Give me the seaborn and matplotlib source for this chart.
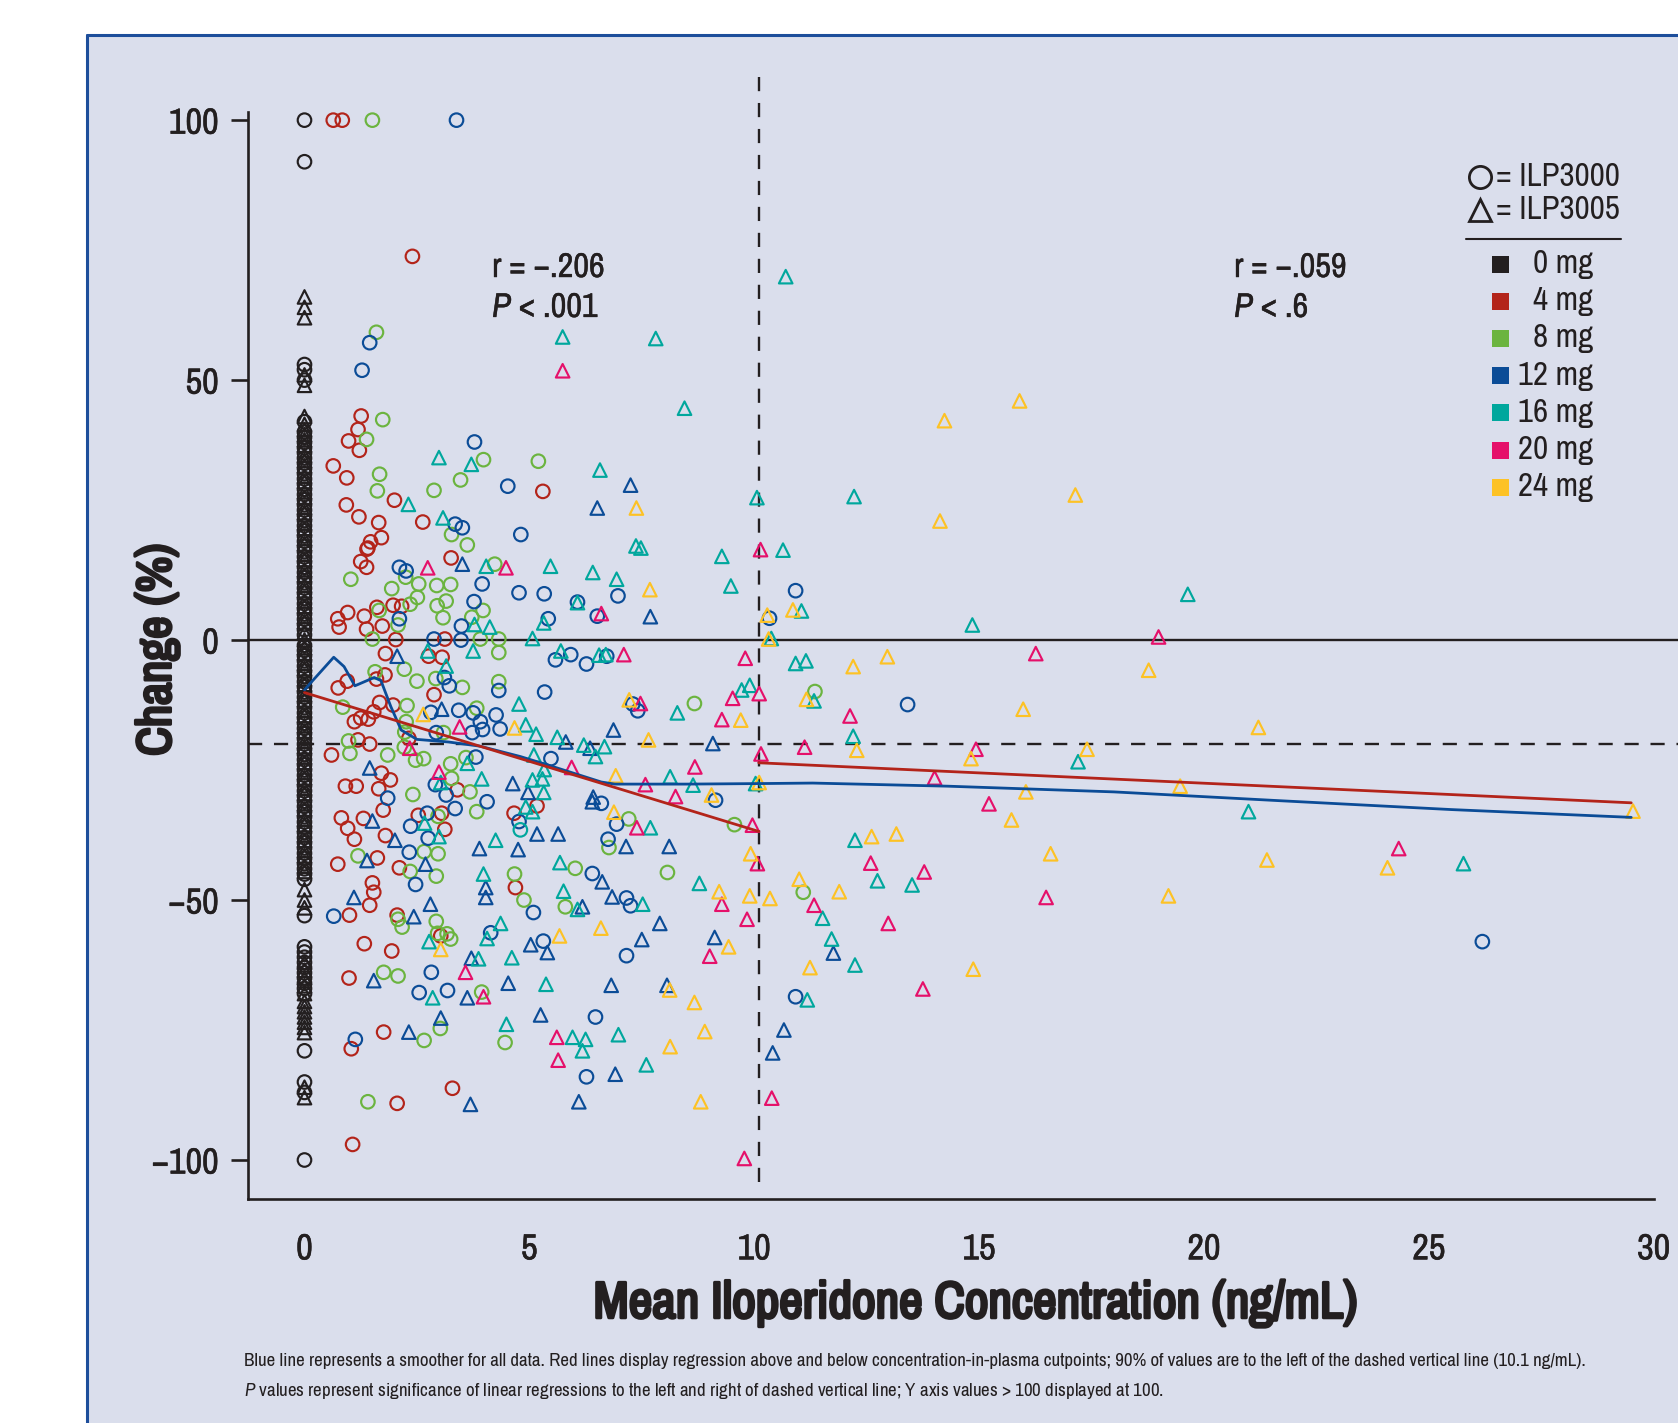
import numpy as np
import pandas as pd
import matplotlib
matplotlib.use("Agg")
import matplotlib.pyplot as plt
import matplotlib.font_manager as fm
import matplotlib.patheffects as pe
from matplotlib.patches import Rectangle
from matplotlib.lines import Line2D
import seaborn as sns

# ---------------- data ----------------
doses = ["0 mg", "4 mg", "8 mg", "12 mg", "16 mg", "20 mg", "24 mg"]
dose_colors = ["#231F20", "#B3241A", "#6BB43F", "#0B4C97", "#00A79D", "#E5106A", "#FDC225"]
studies = ["ILP3000", "ILP3005"]

# placebo (0 mg), concentration 0
mg0_ilp3000_y = [100, 92, 53, 52, 50, 42, 40, 39, 38, 37, 36, 35, 34, 33, 32, 31, 30, 29, 28, 27, 26,
                 25, 24, 23, 22, 21, 20, 19, 18, 17, 16, 15, 14, 13, 12, 11, 10, 9, 8, 7, 6, 5, 4, 3, 2,
                 1, -1, -2, -3, -4, -5, -6, -7, -8, -9, -10, -11, -12, -13, -14, -15, -16, -17, -18, -19,
                 -20, -21, -22, -23, -24, -25, -26, -27, -28, -29, -30, -31, -32, -33, -34, -35, -36, -37,
                 -38, -39, -40, -41, -42, -43, -44, -45, -46, -53, -59, -60, -61, -62, -63, -64, -65,
                 -66, -67, -68, -79, -85, -87, -100]
mg0_ilp3005_y = [66, 64, 62, 51, 49, 43, 41.5, 40.5, 39.5, 38.5, 37.5, 35.5, 34.5, 33.5, 31.5, 30.5,
                 28.5, 27.5, 25.5, 24.5, 22.5, 21.5, 19.5, 18.5, 16.5, 15.5, 13.5, 12.5, 10.5, 9.5, 7.5,
                 6.5, 4.5, 3.5, 1.5, 0, -1.5, -2.5, -4.5, -5.5, -7.5, -8.5, -10.5, -11.5, -13.5, -14.5,
                 -16.5, -17.5, -19.5, -20.5, -22.5, -23.5, -25.5, -26.5, -28.5, -29.5, -31.5, -32.5,
                 -34.5, -35.5, -37.5, -38.5, -40.5, -41.5, -43.5, -44.5, -48, -50, -51.5, -62, -63.5,
                 -65, -66.5, -68, -69.5, -70.5, -71.5, -72.5, -73.5, -74.5, -75.5, -86, -88]

mg4_ilp3000 = [(0.64, 100), (0.84, 100), (2.4, 73.8), (1.26, 43.1), (1.19, 40.5), (0.98, 38.3), (1.22, 36.5),
               (0.64, 33.5), (0.94, 31.2), (0.93, 26), (1.21, 23.7), (1.65, 22.6), (2.0, 26.9), (2.63, 22.7),
               (1.71, 19.7), (1.47, 18.9), (1.41, 17.7), (1.39, 17.5), (1.25, 15.1), (1.38, 14.0), (3.26, 15.8),
               (5.3, 28.6), (0.74, 4.1), (0.77, 2.5), (0.96, 5.3), (1.33, 4.6), (1.61, 6.3), (1.73, 2.7),
               (1.38, 2.1), (1.97, 6.7), (2.16, 6.5), (2.03, 0.1), (3.12, 0.2), (1.8, -2.6), (2.76, -3.1),
               (3.06, -3.3), (0.75, -9.2), (0.95, -7.9), (1.6, -7.5), (1.79, -6.7), (2.88, -10.5), (1.67, -12),
               (1.97, -12.5), (1.11, -15.7), (1.25, -15), (1.42, -15.2), (1.54, -13.8), (1.19, -19.2),
               (1.45, -20), (0.6, -22.1), (2.32, -18.9), (1.71, -25.6), (1.91, -26.9), (0.91, -28.1),
               (1.15, -28.1), (1.65, -28.6), (3.4, -28.8), (1.75, -32.7), (0.82, -34.2), (1.31, -34.3),
               (0.96, -36.2), (1.11, -38.3), (1.8, -37.6), (1.62, -41.9), (0.74, -43.1), (2.11, -43.8),
               (1.51, -46.7), (1.54, -48.5), (1.45, -51), (1.0, -52.9), (2.06, -52.9), (3.03, -56.9),
               (1.33, -58.4), (1.94, -59.8), (2.53, -33.7), (3.05, -33.3), (3.12, -36.4), (0.99, -65),
               (1.76, -75.4), (1.04, -78.6), (3.29, -86.2), (2.06, -89.1), (1.07, -97), (4.66, -33.3),
               (5.17, -31.9), (4.69, -47.6)]

mg8_ilp3000 = [(1.51, 100), (1.6, 59.2), (1.74, 42.4), (1.38, 38.6), (1.67, 31.9), (1.62, 28.7), (2.88, 28.8),
               (3.47, 30.8), (3.98, 34.7), (5.2, 34.4), (3.27, 20.3), (3.62, 18.3), (4.23, 14.6), (1.03, 11.7),
               (1.94, 9.9), (2.25, 12.1), (2.54, 10.8), (2.94, 10.5), (3.25, 10.7), (2.35, 6.9), (2.51, 8.2),
               (2.95, 6.6), (3.15, 7.5), (3.08, 4.3), (3.72, 4.4), (3.97, 5.7), (1.66, 5.7), (2.08, 2.9),
               (1.51, 0.2), (3.91, 0.2), (4.32, 0.2), (4.32, -2.4), (2.22, -5.6), (2.5, -7.9), (2.92, -7.4),
               (3.51, -9.1), (4.32, -8.0), (1.57, -6.1), (0.85, -12.9), (2.28, -12.6), (3.83, -13.1),
               (2.26, -15.7), (2.23, -17.7), (3.09, -17.8), (0.98, -19.4), (1.01, -21.8), (1.85, -22.1),
               (2.22, -20.6), (2.47, -23.1), (2.65, -22.8), (3.25, -23.8), (3.59, -22.6), (3.27, -26.6),
               (2.41, -29.7), (3.68, -29.2), (3.83, -33), (2.97, -33.9), (2.66, -40.7), (2.97, -41.1),
               (1.19, -41.5), (2.35, -44.5), (2.93, -45.4), (2.93, -54.1), (2.08, -53.7), (2.17, -55.2),
               (2.96, -56.4), (3.17, -56.5), (3.25, -57.5), (1.76, -63.9), (2.08, -64.6), (3.94, -67.7),
               (3.02, -74.7), (2.66, -77), (1.41, -88.8), (4.67, -45), (4.88, -50), (5.8, -51.3),
               (6.02, -43.9), (4.46, -77.4), (8.07, -44.7), (7.21, -34.4), (6.77, -39.9), (9.56, -35.5),
               (8.67, -12.2), (11.35, -9.9), (11.09, -48.5)]

mg12_ilp3000 = [(3.38, 100), (1.45, 57.2), (1.28, 51.9), (3.78, 38.1), (4.52, 29.6), (4.81, 20.3), (3.35, 22.3),
                (3.51, 21.6), (2.11, 14.0), (2.26, 13.3), (3.95, 10.8), (4.77, 9.1), (5.33, 8.9), (6.07, 7.3),
                (3.77, 7.4), (3.49, 2.7), (2.11, 4.1), (2.88, 0.2), (3.48, 0), (5.42, 4.1), (6.51, 4.6),
                (5.58, -3.8), (5.92, -2.8), (6.27, -4.6), (3.11, -7.2), (3.22, -8.8), (4.32, -9.7), (5.34, -10),
                (2.81, -13.9), (3.43, -13.5), (3.75, -14), (3.91, -15.7), (4.26, -14.4), (3.96, -17.2),
                (4.35, -17.1), (3.73, -17.8), (2.93, -17.8), (3.81, -22.5), (5.48, -22.8), (2.91, -27.8),
                (3.15, -29.8), (1.85, -30.4), (4.06, -31.1), (2.73, -33.3), (2.36, -35.8), (2.75, -38.1),
                (2.33, -40.8), (2.47, -47), (0.65, -53.1), (2.82, -63.9), (2.55, -67.8), (3.18, -67.4),
                (4.14, -56.3), (5.09, -52.4), (5.31, -57.9), (6.4, -44.9), (4.77, -34.9), (1.13, -76.8),
                (6.27, -84), (6.47, -72.5), (3.35, -32.4), (6.97, 8.5), (6.72, -3.1), (7.3, -12.3),
                (7.41, -13.6), (10.92, 9.5), (10.34, 4.2), (9.14, -30.8), (7.16, -49.6), (7.25, -51.1),
                (7.16, -60.7), (6.94, -35.4), (6.75, -38.3), (6.6, -31.4), (10.92, -68.6), (13.41, -12.4),
                (26.19, -58)]

mg16_ilp3000 = [(4.8, -36.5)]

mg12_ilp3005 = [(3.51, 14.6), (6.51, 25.4), (2.06, -3.1), (3.05, -13.3), (5.81, -19.6), (6.35, -20.8),
                (1.45, -24.6), (4.63, -27.6), (4.97, -29.3), (6.42, -30.2), (1.51, -34.8), (2.01, -38.5),
                (3.89, -40.1), (4.75, -40.3), (5.17, -37.3), (5.64, -37.3), (1.39, -42.4), (2.69, -43.1),
                (4.03, -47.6), (4.03, -49.5), (2.8, -50.8), (1.1, -49.5), (2.43, -53.2), (3.71, -61.2),
                (5.03, -58.6), (5.4, -60.1), (6.18, -51.3), (6.4, -31.1), (1.54, -65.5), (3.62, -68.8),
                (4.53, -66), (5.25, -72.1), (3.03, -72.7), (2.32, -75.4), (3.69, -89.3), (6.1, -88.8),
                (6.84, -49.4), (7.15, -39.7), (8.11, -39.7), (7.5, -57.6), (7.9, -54.5), (8.06, -66.4),
                (9.12, -57.2), (6.91, -83.5), (6.82, -66.4), (10.66, -75), (10.41, -79.4), (6.62, -46.5),
                (7.25, 29.8), (7.69, 4.5), (6.87, -17.3), (9.08, -19.9), (11.76, -60.2)]

mg16_ilp3005 = [(2.99, 35.1), (3.71, 33.8), (2.31, 26.1), (3.08, 23.5), (4.04, 14.2), (5.47, 14.2), (6.41, 13),
                (3.78, 3.0), (4.12, 2.5), (5.32, 3.3), (6.07, 7.2), (5.07, 0.3), (2.74, -2.1), (3.75, -2.1),
                (3.15, -5), (5.7, -2.1), (6.55, -2.9), (4.77, -12.3), (4.92, -16.3), (5.15, -18.1),
                (5.62, -18.7), (6.21, -20.2), (6.47, -22.4), (5.1, -22.1), (5.33, -24.9), (5.29, -26.7),
                (5.07, -26.9), (3.94, -26.7), (3.62, -23.7), (3.03, -27.4), (5.32, -29.3), (4.25, -38.5),
                (4.92, -32.1), (5.07, -33), (2.67, -35.2), (2.99, -37.8), (3.98, -45), (5.68, -42.8),
                (5.76, -48.3), (6.07, -51.8), (4.36, -54.5), (4.06, -57.4), (2.77, -58), (3.87, -61.3),
                (4.61, -61.1), (5.37, -66.2), (2.85, -68.8), (4.49, -73.9), (5.96, -76.4), (6.25, -76.8),
                (6.18, -79), (7.69, -36.1), (7.52, -50.8), (7.6, -81.7), (8.78, -46.8), (6.98, -75.9),
                (10.03, -27.6), (8.64, -27.9), (8.13, -26.3), (8.45, 44.6), (6.57, 32.7), (10.06, 27.4),
                (7.37, 18.1), (7.48, 17.7), (9.28, 16.1), (9.48, 10.4), (10.64, 17.3), (6.94, 11.7),
                (8.29, -14), (9.72, -9.6), (9.9, -8.7), (10.92, -4.5), (10.38, 0.3), (11.15, -4),
                (11.33, -11.7), (6.7, -2.8), (6.67, -20.5), (10.7, 69.9), (12.22, 27.6), (11.05, 5.6),
                (14.85, 2.9), (19.64, 8.8), (12.2, -18.5), (17.2, -23.4), (20.99, -33), (12.24, -38.5),
                (12.74, -46.3), (13.51, -47.1), (11.52, -53.5), (11.72, -57.5), (12.24, -62.5),
                (11.18, -69.2), (25.77, -43), (5.74, 58.3), (7.81, 58.0)]

mg20_ilp3005 = [(2.74, 13.9), (4.48, 13.9), (3.45, -16.7), (5.94, -24.5), (2.99, -25.4), (2.34, -20.8),
                (3.58, -63.9), (3.98, -68.6), (5.61, -76.4), (5.64, -80.8), (6.6, 5.1), (7.1, -2.8), (9.8, -3.5),
                (10.14, 17.4), (9.52, -11.2), (10.11, -10.3), (9.28, -15.3), (7.47, -12.2), (7.58, -27.8),
                (8.68, -24.4), (10.15, -21.9), (11.12, -20.6), (8.25, -30.1), (7.39, -36.1), (9.96, -35.6),
                (10.07, -43), (9.84, -53.7), (9.28, -50.8), (9.01, -60.8), (9.78, -99.7), (10.39, -88.1),
                (16.26, -2.6), (12.13, -14.6), (14.93, -21), (14.01, -26.5), (15.22, -31.5), (12.59, -42.9),
                (13.78, -44.6), (11.33, -51), (12.98, -54.5), (16.49, -49.5), (13.75, -67.1), (18.99, 0.6),
                (24.33, -40.1), (5.74, 51.8)]

mg24_ilp3005 = [(2.64, -14.3), (4.67, -16.9), (3.03, -59.5), (5.67, -56.9), (7.38, 25.4), (7.68, 9.7),
                (10.29, 4.8), (10.86, 5.8), (10.32, 0.2), (7.22, -11.5), (9.7, -15.4), (11.16, -11.4),
                (7.65, -19.2), (6.92, -26.1), (9.05, -29.8), (10.11, -27.4), (6.88, -33.1), (9.92, -41.1),
                (9.22, -48.4), (9.9, -49.2), (10.35, -49.7), (9.43, -59), (8.12, -67.3), (8.67, -69.7),
                (8.9, -75.3), (8.13, -78.2), (8.81, -88.8), (6.59, -55.4), (11.0, -46), (12.2, -5.1),
                (12.96, -3.2), (18.77, -5.8), (15.98, -13.3), (21.21, -16.8), (12.28, -21.2), (14.82, -22.8),
                (17.4, -21), (16.04, -29.2), (19.47, -28.1), (15.72, -34.6), (12.61, -37.8), (13.16, -37.3),
                (16.59, -41.1), (21.4, -42.3), (11.89, -48.4), (19.21, -49.2), (11.24, -63), (14.87, -63.3),
                (15.9, 46), (14.23, 42.2), (14.13, 22.9), (17.14, 27.9), (24.08, -43.8), (29.54, -32.9)]

smooth_x = [0, 0.13, 0.65, 0.88, 1.12, 1.55, 1.7, 1.92, 2.15, 2.5, 3.2, 3.9, 4.8, 5.4, 6.6, 6.9,
            8.5, 10.1, 11.3, 14.3, 18.0, 21.7, 25.5, 29.5]
smooth_y = [-9.6, -8.3, -3.3, -5.1, -8.8, -7.2, -7.8, -12.8, -17.3, -19.1, -19.6, -20.4, -22.4, -24.0,
            -27.3, -27.7, -27.7, -27.6, -27.5, -28.1, -29.2, -30.9, -32.6, -34.1]
reg_left_x = [0, 10.1]
reg_left_y = [-10.1, -36.8]
reg_right_x = [10.1, 29.5]
reg_right_y = [-23.6, -31.3]
cutpoint = 10.1
threshold = -20

x_ticks = [0, 5, 10, 15, 20, 25, 30]
y_ticks = [-100, -50, 0, 50, 100]
stats_left = ["r = \u2212.206", "< .001"]
stats_right = ["r = \u2212.059", "< .6"]

# ---------------- build table ----------------
rows = []
for y in mg0_ilp3000_y:
    rows.append((0.0, y, "0 mg", "ILP3000"))
for y in mg0_ilp3005_y:
    rows.append((0.0, y, "0 mg", "ILP3005"))
for pts, d, s in [(mg4_ilp3000, "4 mg", "ILP3000"), (mg8_ilp3000, "8 mg", "ILP3000"),
                  (mg12_ilp3000, "12 mg", "ILP3000"), (mg16_ilp3000, "16 mg", "ILP3000"),
                  (mg12_ilp3005, "12 mg", "ILP3005"), (mg16_ilp3005, "16 mg", "ILP3005"),
                  (mg20_ilp3005, "20 mg", "ILP3005"), (mg24_ilp3005, "24 mg", "ILP3005")]:
    for x, y in pts:
        rows.append((x, y, d, s))
df = pd.DataFrame(rows, columns=["conc", "change", "dose", "study"])

# ---------------- style ----------------
sns.set_theme(style="ticks")


def pick(names):
    for n in names:
        try:
            fm.findfont(fm.FontProperties(family=n), fallback_to_default=False)
            return n
        except Exception:
            pass
    return "Liberation Sans"


NARROW = pick(["Archivo Narrow", "Asap Condensed", "Liberation Sans"])
plt.rcParams["font.family"] = [NARROW, "DejaVu Sans"]
plt.rcParams["mathtext.fontset"] = "custom"
plt.rcParams["mathtext.it"] = NARROW + ":italic"
plt.rcParams["mathtext.rm"] = NARROW
TXT = "#231F20"


def heavy(w):
    return [pe.withStroke(linewidth=w, foreground=TXT)]


W, H = 1678, 1423
fig = plt.figure(figsize=(W / 100, H / 100), dpi=100, facecolor="white")
renderer = fig.canvas.get_renderer()


def fx(px):
    return px / W


def fy(py):
    return 1 - py / H


def fit(t, target, use_height=False):
    for _ in range(3):
        bb = t.get_window_extent(renderer)
        cur = bb.height if use_height else bb.width
        if cur > 0:
            t.set_fontsize(t.get_fontsize() * target / cur)
    return t


# panel background with blue border
fig.patches.append(Rectangle((fx(87), 0), 1 - fx(87), fy(35), transform=fig.transFigure,
                             facecolor="#DADEEC", edgecolor="none", zorder=-5))
fig.add_artist(Line2D([fx(87), 1], [fy(34.5), fy(34.5)], color="#1D4E9B", lw=2.2, zorder=-4))
fig.add_artist(Line2D([fx(87), fx(87)], [0, fy(34.5)], color="#1D4E9B", lw=2.2, zorder=-4))

xl = (-1.256, 30.54)
yl = (-107.5, 108.3)
ax = fig.add_axes([fx(248), fy(1199), 1 - fx(248), (1199 - 77) / H])
ax.set_facecolor("none")
ax.set_xlim(*xl)
ax.set_ylim(*yl)

pal = dict(zip(doses, dose_colors))
sns.scatterplot(data=df, x="conc", y="change", hue="dose", hue_order=doses, style="study",
                style_order=studies, markers={"ILP3000": "o", "ILP3005": "^"}, palette=pal,
                s=95, linewidth=1.55, legend=False, ax=ax, zorder=3)
coll = ax.collections[-1]
fcs = coll.get_facecolors()
coll.set_edgecolors(fcs)
coll.set_facecolors("none")
coll.set_clip_on(False)

ax.axhline(0, color=TXT, lw=1.7, zorder=2, clip_on=False)
ax.axhline(threshold, color=TXT, lw=1.7, ls=(0, (6, 5)), zorder=2)
ax.plot([cutpoint, cutpoint], [yl[1], -106.3], color=TXT, lw=1.7, ls=(0, (6, 5)), zorder=2, clip_on=False)

ax.plot(smooth_x, smooth_y, color="#0B4C97", lw=2.0, zorder=4)
ax.plot(reg_left_x, reg_left_y, color="#B3241A", lw=2.0, zorder=4)
ax.plot(reg_right_x, reg_right_y, color="#B3241A", lw=2.0, zorder=4)

for side in ["top", "right"]:
    ax.spines[side].set_visible(False)
for side in ["left", "bottom"]:
    ax.spines[side].set_linewidth(1.9)
    ax.spines[side].set_color(TXT)
ax.spines["left"].set_bounds(yl[0], 101.5)
ax.spines["bottom"].set_bounds(xl[0], 30)

probe = fig.text(0, 0, "100", fontsize=26)
fit(probe, 50)
tick_fs = probe.get_fontsize()
probe.remove()

ax.set_xticks(x_ticks)
ax.set_yticks(y_ticks)
ax.set_yticklabels([str(v).replace("-", "\u2212") for v in y_ticks])
ax.set_xticklabels([str(v) for v in x_ticks])
ax.tick_params(axis="y", direction="out", length=12, width=1.9, color=TXT, pad=9,
               labelsize=tick_fs, labelcolor=TXT)
ax.tick_params(axis="x", direction="out", length=0, width=1.9, color=TXT, pad=24,
               labelsize=tick_fs, labelcolor=TXT)
for lab in ax.get_xticklabels() + ax.get_yticklabels():
    lab.set_path_effects(heavy(0.4))
ax.set_xlabel("")
ax.set_ylabel("")

t = fig.text(fx(976), fy(1303), "Mean Iloperidone Concentration (ng/mL)", ha="center", va="center",
             fontsize=32, fontweight="bold", color=TXT)
fit(t, 765)
t.set_path_effects(heavy(2.2))
t = fig.text(fx(157), fy(650), "Change (%)", ha="center", va="center", rotation=90,
             fontsize=32, fontweight="bold", color=TXT)
fit(t, 212, use_height=True)
t.set_path_effects(heavy(2.2))

for x0, lines in [(492, stats_left), (1234, stats_right)]:
    t1 = fig.text(fx(x0), fy(267), lines[0], ha="left", va="center", fontsize=22, color=TXT)
    fit(t1, 113)
    t1.set_path_effects(heavy(0.3))
    t2 = fig.text(fx(x0), fy(307), "$\\it{P}$ " + lines[1], ha="left", va="center",
                  fontsize=t1.get_fontsize(), color=TXT)
    t2.set_path_effects(heavy(0.3))

# legend
for cy, mk, lab in [(177, "o", "= ILP3000"), (210, "^", "= ILP3005")]:
    fig.add_artist(Line2D([fx(1480)], [fy(cy)], marker=mk, markersize=16, markerfacecolor="none",
                          markeredgecolor=TXT, markeredgewidth=2.0, linestyle="none"))
    t = fig.text(fx(1496), fy(cy), lab, ha="left", va="center", fontsize=21, color=TXT)
    fit(t, 124)
leg_fs = t.get_fontsize()
fig.add_artist(Line2D([fx(1466), fx(1621)], [fy(239), fy(239)], color=TXT, lw=1.5))
for i, (d, c) in enumerate(zip(doses, dose_colors)):
    cy = 264 + i * 37.2
    fig.patches.append(Rectangle((fx(1492), fy(cy + 8.5)), fx(17), 17 / H, transform=fig.transFigure,
                                 facecolor=c, edgecolor="none"))
    fig.text(fx(1593), fy(cy), d, ha="right", va="center", fontsize=leg_fs, color=TXT)

t = fig.text(fx(244), fy(1361), "Blue line represents a smoother for all data. Red lines display regression above and "
             "below concentration-in-plasma cutpoints; 90% of values are to the left of the dashed vertical line (10.1 ng/mL).",
             ha="left", va="center", fontsize=12, color=TXT)
fit(t, 1344)
fig.text(fx(244), fy(1391), "$\\it{P}$ values represent significance of linear regressions to the left and right of "
         "dashed vertical line; Y axis values > 100 displayed at 100.",
         ha="left", va="center", fontsize=t.get_fontsize(), color=TXT)

fig.savefig("out.png", dpi=100, facecolor="white")
